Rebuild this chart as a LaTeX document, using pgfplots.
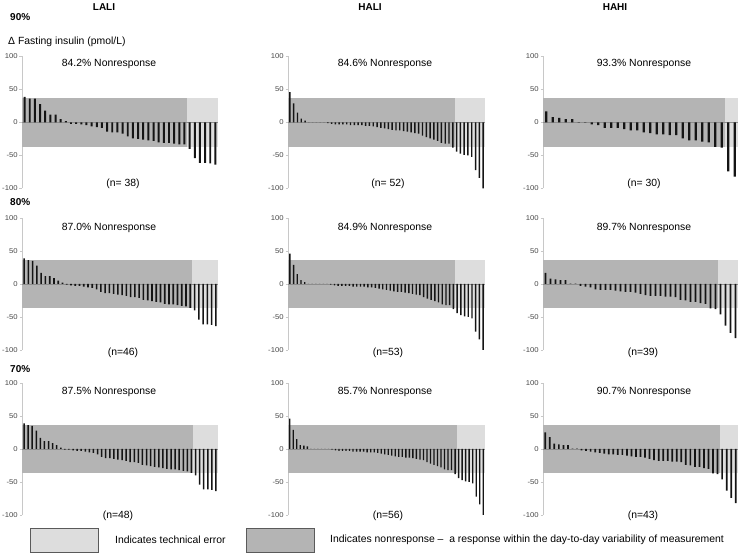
\documentclass[border=0pt]{standalone}
\usepackage{pgfplots}
\pgfplotsset{compat=1.18}
\usepackage{fontspec}
\setmainfont{Liberation Sans}

\definecolor{darkband}{RGB}{180,180,180}
\definecolor{lightband}{RGB}{221,221,221}
\definecolor{barblack}{RGB}{20,20,20}
\definecolor{axisgray}{RGB}{200,200,200}
\definecolor{zerogray}{RGB}{140,140,140}
\definecolor{ticktext}{RGB}{70,70,70}
\definecolor{boxedge}{RGB}{90,90,90}

\pgfplotsset{
  panel/.style={
    scale only axis, height=132pt, anchor=south west,
    ymin=-100, ymax=100,
    ytick={-100,-50,0,50,100},
    yticklabels={-100,-50,0,50,100},
    xtick=\empty,
    axis x line=none,
    axis y line*=left,
    y axis line style={axisgray, line width=0.7pt},
    ytick align=outside, major tick length=2.5pt,
    ytick style={axisgray, line width=0.7pt},
    yticklabel style={font=\fontsize{7}{8}\selectfont, text=ticktext, inner sep=1.5pt, xscale=1.1},
    ybar, bar width=0.38,
  },
}

% #1 left, #2 bottom, #3 width, #4 n, #5 nonresponders, #6 values
\newcommand\panel[6]{%
  \begin{axis}[panel, at={(#1pt,#2pt)}, width=#3pt, xmin=0.5, xmax=#4.5]
    \fill[darkband] (axis cs:0.5,-37) rectangle (axis cs:#5.5,37);
    \fill[lightband] (axis cs:#5.5,-37) rectangle (axis cs:#4.5,37);
    \draw[zerogray, line width=0.6pt] (axis cs:0.5,0) -- (axis cs:#4.5,0);
    \addplot[fill=barblack, draw=none] table[x expr=\coordindex+1, y index=0, header=false, row sep=\\] {#6};
  \end{axis}}

\newcommand\txt{\fontsize{10.4}{12}\selectfont}
\newcommand\hdr{\bfseries\fontsize{10}{12}\selectfont}

\begin{document}
\begin{tikzpicture}
\path[use as bounding box] (0,0) rectangle (740pt,554pt);

% 90%
\panel{22}{365.5}{196}{38}{32}{39\\36\\36\\28\\18\\12\\12\\5\\2\\-2\\-2\\-3\\-4\\-6\\-7\\-8\\-14\\-15\\-15\\-17\\-21\\-24\\-25\\-26\\-27\\-28\\-30\\-31\\-31\\-32\\-33\\-33\\-40\\-54\\-61\\-61\\-62\\-64\\}
\panel{288}{365.5}{197}{52}{44}{46\\29\\15\\6\\3\\0.3\\0.3\\0.3\\0.3\\0.3\\-1\\-2\\-3\\-3\\-3\\-3\\-4\\-4\\-4\\-4\\-5\\-5\\-6\\-7\\-8\\-9\\-10\\-11\\-12\\-12\\-13\\-14\\-15\\-16\\-17\\-20\\-22\\-24\\-26\\-28\\-31\\-32\\-32\\-38\\-44\\-47\\-49\\-50\\-52\\-72\\-84\\-100\\}
\panel{543}{365.5}{195}{30}{28}{17\\8\\7\\5\\5\\0.5\\0.5\\-3\\-4\\-8\\-8\\-8\\-10\\-12\\-12\\-15\\-16\\-18\\-18\\-19\\-19\\-24\\-27\\-27\\-29\\-30\\-37\\-38\\-74\\-82\\}

% 80%
\panel{22}{204}{196}{46}{40}{39\\36\\35\\28\\17\\12\\12\\9\\5\\2\\-1\\-2\\-3\\-3\\-4\\-5\\-6\\-8\\-12\\-14\\-14\\-15\\-16\\-17\\-18\\-20\\-20\\-21\\-24\\-25\\-26\\-27\\-28\\-30\\-31\\-31\\-32\\-33\\-34\\-36\\-40\\-54\\-61\\-61\\-62\\-64\\}
\panel{288}{204}{197}{53}{45}{46\\29\\15\\6\\3\\0.3\\0.3\\0.3\\0.3\\0.3\\0.3\\-1\\-2\\-3\\-3\\-3\\-3\\-4\\-4\\-4\\-4\\-5\\-5\\-6\\-7\\-8\\-9\\-10\\-11\\-12\\-12\\-13\\-14\\-15\\-16\\-17\\-20\\-22\\-24\\-26\\-28\\-31\\-32\\-32\\-38\\-44\\-47\\-49\\-50\\-52\\-72\\-84\\-100\\}
\panel{543}{204}{195}{39}{35}{17\\8\\7\\6\\6\\0.5\\0.5\\-3\\-4\\-5\\-8\\-9\\-9\\-9\\-10\\-11\\-12\\-12\\-13\\-15\\-17\\-18\\-18\\-18\\-19\\-19\\-20\\-24\\-25\\-27\\-27\\-29\\-30\\-37\\-38\\-46\\-63\\-74\\-82\\}

% 70%
\panel{22}{39}{196}{48}{42}{39\\36\\35\\28\\17\\12\\12\\9\\6\\2\\-1\\-1\\-2\\-3\\-3\\-4\\-5\\-6\\-8\\-12\\-14\\-14\\-15\\-16\\-17\\-18\\-20\\-20\\-21\\-24\\-25\\-26\\-27\\-28\\-29\\-30\\-31\\-31\\-32\\-33\\-34\\-36\\-40\\-54\\-61\\-61\\-62\\-64\\}
\panel{288}{39}{197}{56}{48}{46\\29\\15\\6\\5\\4\\0.3\\0.3\\0.3\\0.3\\0.3\\0.3\\-1\\-2\\-3\\-3\\-3\\-3\\-4\\-4\\-4\\-4\\-5\\-5\\-5\\-6\\-7\\-8\\-9\\-10\\-11\\-12\\-12\\-13\\-13\\-14\\-15\\-16\\-17\\-20\\-22\\-24\\-26\\-28\\-31\\-32\\-32\\-38\\-44\\-47\\-49\\-50\\-52\\-72\\-84\\-100\\}
\panel{543}{39}{195}{43}{39}{25\\18\\8\\7\\6\\6\\0.5\\0.5\\-2\\-3\\-4\\-5\\-6\\-7\\-8\\-8\\-9\\-9\\-10\\-11\\-12\\-12\\-13\\-15\\-17\\-18\\-18\\-18\\-19\\-19\\-20\\-24\\-25\\-27\\-27\\-29\\-30\\-37\\-38\\-46\\-63\\-74\\-82\\}

% headings
\node[font=\hdr] at (104pt,547pt) {LALI};
\node[font=\hdr] at (370pt,547pt) {HALI};
\node[font=\hdr] at (615pt,547pt) {HAHI};
\node[font=\hdr, anchor=west, inner sep=0pt] at (10pt,537pt) {90\%};
\node[font=\hdr, anchor=west, inner sep=0pt] at (10pt,352pt) {80\%};
\node[font=\hdr, anchor=west, inner sep=0pt] at (10pt,185pt) {70\%};
\node[font=\txt, anchor=west, inner sep=0pt] at (8pt,512pt) {Δ Fasting insulin (pmol/L)};

% panel texts
\node[font=\txt] at (109pt,490pt) {84.2\% Nonresponse};
\node[font=\txt] at (385pt,490pt) {84.6\% Nonresponse};
\node[font=\txt] at (644pt,490pt) {93.3\% Nonresponse};
\node[font=\txt] at (123pt,370pt) {(n= 38)};
\node[font=\txt] at (388pt,370pt) {(n= 52)};
\node[font=\txt] at (644pt,370pt) {(n= 30)};

\node[font=\txt] at (109pt,326pt) {87.0\% Nonresponse};
\node[font=\txt] at (385pt,326pt) {84.9\% Nonresponse};
\node[font=\txt] at (644pt,326pt) {89.7\% Nonresponse};
\node[font=\txt] at (123pt,201pt) {(n=46)};
\node[font=\txt] at (388pt,201pt) {(n=53)};
\node[font=\txt] at (643pt,201pt) {(n=39)};

\node[font=\txt] at (109pt,162pt) {87.5\% Nonresponse};
\node[font=\txt] at (385pt,162pt) {85.7\% Nonresponse};
\node[font=\txt] at (644pt,162pt) {90.7\% Nonresponse};
\node[font=\txt] at (118pt,38pt) {(n=48)};
\node[font=\txt] at (388pt,38pt) {(n=56)};
\node[font=\txt] at (643pt,38pt) {(n=43)};

% key
\draw[boxedge, fill=lightband, line width=0.8pt] (30pt,2pt) rectangle (98pt,26pt);
\node[font=\txt, anchor=west, inner sep=0pt] at (115pt,14pt) {Indicates technical error};
\draw[boxedge, fill=darkband, line width=0.8pt] (246pt,2pt) rectangle (314pt,26pt);
\node[font=\txt, anchor=west, inner sep=0pt] at (330pt,14pt) {Indicates nonresponse –\ \ a response within the day-to-day variability of measurement};
\end{tikzpicture}
\end{document}
